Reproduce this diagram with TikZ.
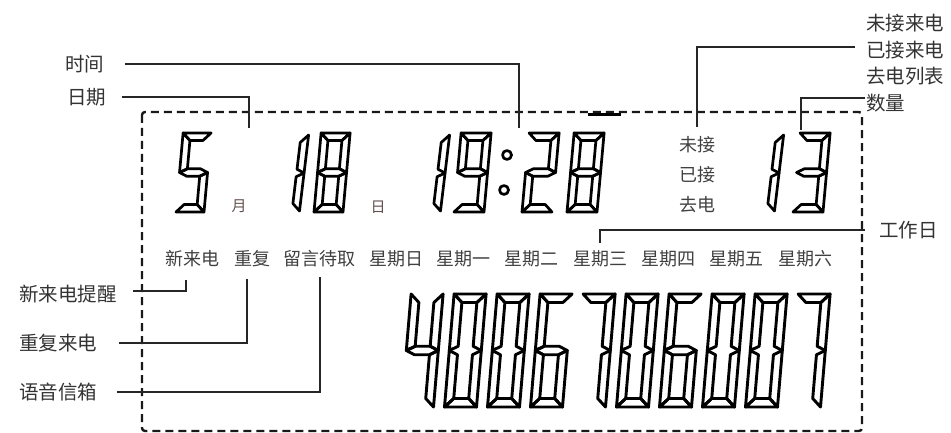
\documentclass[tikz,border=0pt]{standalone}
\usepackage{fontspec}
\setmainfont{Noto Sans CJK SC}
\tikzset{
  seg/.style={draw=black, line width=2.7pt, line join=round},
  bigseg/.style={draw=black, line width=2.9pt, line join=round},
  lead/.style={draw=black!85, line width=1.3pt},
  lbl/.style={inner sep=0pt, text=black!80, font=\fontsize{19.5}{22}\selectfont},
  inl/.style={inner sep=0pt, text=black!75, font=\fontsize{18}{20}\selectfont},
  unitlbl/.style={inner sep=0pt, text={rgb,255:red,100;green,80;blue,80}, font=\fontsize{15}{17}\selectfont},
  border/.style={draw=black!90, line width=2.4pt, dash pattern=on 8pt off 5pt},
}
% #1 style, #2 X (bottom-left), #3 Y bottom, #4 W, #5 H, #6 thickness, #7 slant, #8 segments
\newcommand{\lcd}[8]{%
  \begin{scope}[shift={(#2,#3)}, y=1pt, xslant=#7, cur/.style={#1}]
    \def\dW{#4}\def\dH{#5}\def\dT{#6}%
    \pgfmathsetmacro\dM{#5/2}\pgfmathsetmacro\dTh{#6/2}%
    \foreach \sg in {#8}{\csname lcdseg\sg\endcsname}%
  \end{scope}}
\newcommand{\lcdsega}{\draw[cur] (0,\dH) -- (\dW,\dH) -- (\dW-\dT,\dH-\dT) -- (\dT,\dH-\dT) -- cycle;}
\newcommand{\lcdsegd}{\draw[cur] (0,0) -- (\dW,0) -- (\dW-\dT,\dT) -- (\dT,\dT) -- cycle;}
\newcommand{\lcdsegf}{\draw[cur] (0,\dH) -- (\dT,\dH-\dT) -- (\dT,\dM+\dTh) -- (0,\dM) -- cycle;}
\newcommand{\lcdsege}{\draw[cur] (0,\dM) -- (\dT,\dM-\dTh) -- (\dT,\dT) -- (0,0) -- cycle;}
\newcommand{\lcdsegb}{\draw[cur] (\dW,\dH) -- (\dW,\dM) -- (\dW-\dT,\dM+\dTh) -- (\dW-\dT,\dH-\dT) -- cycle;}
\newcommand{\lcdsegc}{\draw[cur] (\dW,\dM) -- (\dW,0) -- (\dW-\dT,\dT) -- (\dW-\dT,\dM-\dTh) -- cycle;}
\newcommand{\lcdsegg}{\draw[cur] (0,\dM) -- (\dT,\dM+\dTh) -- (\dW-\dT,\dM+\dTh) -- (\dW,\dM) -- (\dW-\dT,\dM-\dTh) -- (\dT,\dM-\dTh) -- cycle;}
\begin{document}
\begin{tikzpicture}[x=1pt, y=-1pt]
\useasboundingbox (0,0) rectangle (951,433);

% dashed frame
\draw[border, rounded corners=3pt] (142,112) rectangle (862,431);
\draw[line width=2.2pt] (588,114.5) -- (621,114.5);

% top digits
\lcd{seg}{176}{212}{28}{79}{7.5}{0.09}{a,f,g,c,d}
\lcd{seg}{292}{211}{7.5}{76}{7.5}{0.12}{b,c}
\lcd{seg}{314}{212}{29}{79}{7.5}{0.09}{a,b,c,d,e,f,g}
\lcd{seg}{433}{211}{7.5}{76}{7.5}{0.12}{b,c}
\lcd{seg}{454}{212}{30}{79}{7.5}{0.09}{a,b,c,d,f,g}
\draw[seg] (507,155) circle[radius=4.5];
\draw[seg] (504,190) circle[radius=4.5];
\lcd{seg}{522}{212}{30}{79}{7.5}{0.09}{a,b,g,e,d}
\lcd{seg}{567}{212}{30}{79}{7.5}{0.09}{a,b,c,d,e,f,g}
\lcd{seg}{767}{211}{7.5}{76}{7.5}{0.12}{b,c}
\lcd{seg}{793}{212}{30}{79}{7.5}{0.09}{a,b,g,c,d}

% big number
\lcd{bigseg}{401.5}{407}{32}{113}{8.5}{0.085}{f,g,b,c}
\lcd{bigseg}{444.5}{407}{32}{113}{8.5}{0.085}{a,b,c,d,e,f}
\lcd{bigseg}{487.5}{407}{32}{113}{8.5}{0.085}{a,b,c,d,e,f}
\lcd{bigseg}{530.5}{407}{32}{113}{8.5}{0.085}{a,f,g,e,d,c}
\lcd{bigseg}{573.5}{407}{32}{113}{8.5}{0.085}{a,b,c}
\lcd{bigseg}{616.5}{407}{32}{113}{8.5}{0.085}{a,b,c,d,e,f}
\lcd{bigseg}{659.5}{407}{32}{113}{8.5}{0.085}{a,f,g,e,d,c}
\lcd{bigseg}{702.5}{407}{32}{113}{8.5}{0.085}{a,b,c,d,e,f}
\lcd{bigseg}{745.5}{407}{32}{113}{8.5}{0.085}{a,b,c,d,e,f}
\lcd{bigseg}{788.5}{407}{32}{113}{8.5}{0.085}{a,b,c}

% unit labels
\node[unitlbl] (uMon) at (239,206) {月};
\node[unitlbl] (uDay) at (378,207) {日};

% inner labels
\node[inl, anchor=west] (iMiss) at (679,145) {未接};
\node[inl, anchor=west] (iRecv) at (679,175) {已接};
\node[inl, anchor=west] (iDial) at (679,205) {去电};
\node[inl, anchor=west] (iNew) at (165,259) {新来电};
\node[inl, anchor=west] (iRep) at (234,259) {重复};
\node[inl, anchor=west] (iMsg) at (283,259) {留言待取};
\node[inl, anchor=west] (iSun) at (369,259) {星期日};
\node[inl, anchor=west] (iMon) at (436,259) {星期一};
\node[inl, anchor=west] (iTue) at (504,259) {星期二};
\node[inl, anchor=west] (iWed) at (573,259) {星期三};
\node[inl, anchor=west] (iThu) at (641,259) {星期四};
\node[inl, anchor=west] (iFri) at (709,259) {星期五};
\node[inl, anchor=west] (iSat) at (778,259) {星期六};

% outer labels
\node[lbl, anchor=west] (lTime) at (65,64) {时间};
\node[lbl, anchor=west] (lDate) at (67,97) {日期};
\node[lbl, anchor=west] (lMiss) at (866,23) {未接来电};
\node[lbl, anchor=west] (lRecv) at (866,50) {已接来电};
\node[lbl, anchor=west] (lDial) at (866,76) {去电列表};
\node[lbl, anchor=west] (lCount) at (866,103) {数量};
\node[lbl, anchor=west] (lWork) at (879,230) {工作日};
\node[lbl, anchor=west] (lNew) at (19,294) {新来电提醒};
\node[lbl, anchor=west] (lRep) at (19,343) {重复来电};
\node[lbl, anchor=west] (lVoice) at (19,392) {语音信箱};

% leader targets
\coordinate (cTime) at (519,128);
\coordinate (cDate) at (249,128);
\coordinate (cCalls) at (697,127);
\coordinate (cCount) at (801,130);
\coordinate (cWork) at (600,243);
\coordinate (cNew) at (186,280);
\coordinate (cRep) at (247,279);
\coordinate (cVoice) at (320,277);

% leaders
\draw[lead] ([xshift=21pt]lTime.east) -| (cTime);
\draw[lead] ([xshift=16pt]lDate.east) -| (cDate);
\draw[lead] ([xshift=-11pt,yshift=3pt]lRecv.west) -| (cCalls);
\draw[lead] ([xshift=-1pt,yshift=5pt]lCount.west) -| (cCount);
\draw[lead] ([xshift=-14pt]lWork.west) -| (cWork);
\draw[lead] ([xshift=16pt,yshift=3pt]lNew.east) -| (cNew);
\draw[lead] ([xshift=22pt]lRep.east) -| (cRep);
\draw[lead] ([xshift=20pt]lVoice.east) -| (cVoice);
\end{tikzpicture}
\end{document}
